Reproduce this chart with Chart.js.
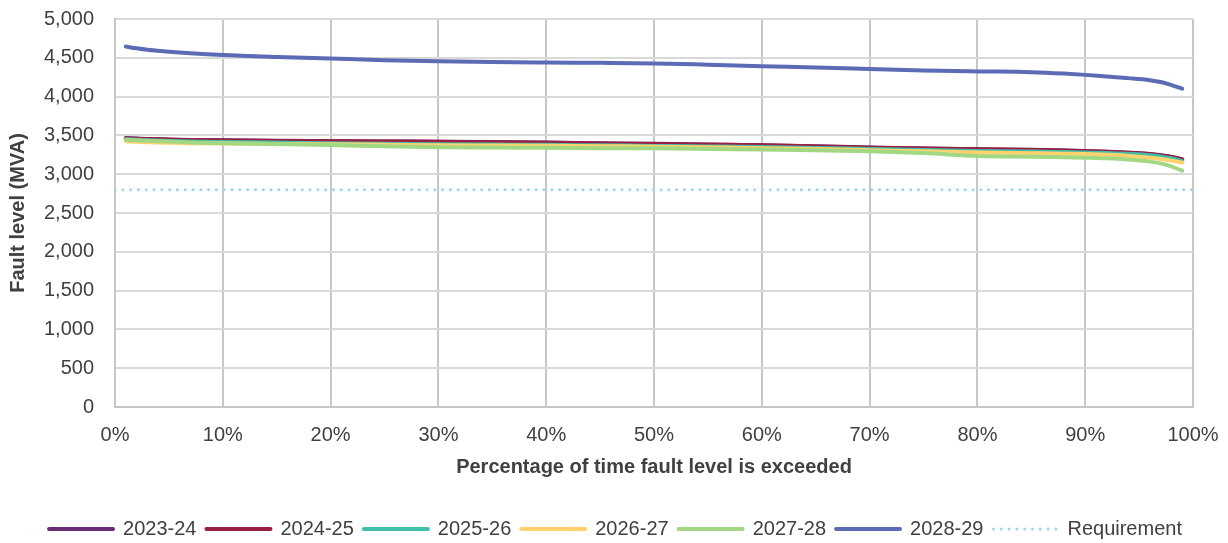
<!DOCTYPE html>
<html><head><meta charset="utf-8">
<script src="https://cdn.jsdelivr.net/npm/chart.js@4/dist/chart.umd.min.js"></script>
<style>html,body{margin:0;padding:0;background:#fff}#wrap{width:1228px;height:543px}</style>
</head><body><div id="wrap"><canvas id="c" width="1228" height="543"></canvas></div>
<script>
const xPct = [1,2,3,5,7,10,15,20,25,30,35,40,45,50,55,60,65,70,75,80,85,88,90,92,94,96,97,98,99];
const s2023 = [3465,3460,3455,3448,3442,3436,3430,3426,3422,3419,3414,3407,3399,3391,3382,3373,3360,3344,3332,3322,3314,3306,3299,3290,3278,3260,3244,3222,3186];
const s2024 = [3460,3456,3452,3445,3439,3433,3429,3425,3421,3418,3412,3405,3397,3390,3381,3372,3358,3342,3330,3320,3312,3304,3297,3288,3275,3258,3242,3222,3192];
const s2025 = [3450,3443,3436,3428,3421,3415,3407,3400,3392,3386,3382,3379,3372,3365,3358,3350,3338,3325,3312,3300,3292,3285,3280,3272,3262,3245,3228,3205,3168];
const s2026 = [3425,3418,3412,3405,3400,3395,3390,3385,3378,3372,3370,3368,3361,3355,3346,3336,3324,3310,3295,3280,3270,3264,3259,3250,3236,3212,3195,3175,3150];
const s2027 = [3445,3437,3430,3420,3410,3400,3388,3375,3360,3347,3343,3340,3336,3333,3326,3318,3308,3295,3272,3236,3225,3218,3212,3204,3188,3162,3140,3100,3045];
const s2028 = [4645,4622,4603,4578,4558,4535,4510,4490,4470,4455,4446,4440,4435,4428,4411,4392,4375,4355,4337,4325,4315,4297,4280,4258,4238,4212,4188,4148,4102];
const requirement = 2800;
const seriesNames = ['2023-24','2024-25','2025-26','2026-27','2027-28','2028-29','Requirement'];
const seriesColors = ['#6A2C74','#9B1E42','#42BFA8','#FFD26E','#A2D884','#5B6BB5','#9ED8E6'];
const xTicks = [0,10,20,30,40,50,60,70,80,90,100];
const yTicks = [0,500,1000,1500,2000,2500,3000,3500,4000,4500,5000];

const FONT = "'Liberation Sans', Arial, sans-serif";
const TXT = '#404040';
const seriesData = [s2023,s2024,s2025,s2026,s2027,s2028];
const datasets = seriesData.map((arr,i)=>({
  label: seriesNames[i],
  data: arr.map((v,j)=>({x:xPct[j], y:v})),
  borderColor: seriesColors[i],
  backgroundColor: seriesColors[i],
  borderWidth: 4,
  pointRadius: 0,
  tension: 0.4,
  cubicInterpolationMode: 'monotone',
  borderCapStyle: 'round',
  fill: false,
  order: 10 - i
}));
datasets.push({
  label: seriesNames[6],
  data: [{x:0,y:requirement},{x:100,y:requirement}],
  borderColor: seriesColors[6],
  backgroundColor: seriesColors[6],
  borderWidth: 3,
  borderDash: [0.1, 7.7],
  borderCapStyle: 'round',
  pointRadius: 0,
  fill: false,
  order: 20
});

const shiftLegend = {
  id: 'shiftLegend',
  afterUpdate(chart) {
    const lg = chart.legend;
    if (lg) { lg.left += 18; lg.right += 18; if (lg.adjustHitBoxes) lg.adjustHitBoxes(); }
  }
};

Chart.defaults.font.family = FONT;
Chart.defaults.color = TXT;
new Chart(document.getElementById('c'), {
  type: 'line',
  data: { datasets },
  plugins: [shiftLegend],
  options: {
    responsive: false,
    animation: false,
    layout: { padding: { left: 2, right: 35, top: 19, bottom: -6 } },
    plugins: {
      legend: {
        position: 'bottom',
        labels: {
          usePointStyle: true,
          pointStyle: 'line',
          pointStyleWidth: 64,
          boxHeight: 4,
          padding: 10,
          font: { size: 20, family: FONT },
          color: TXT,
          sort: (a,b)=>a.datasetIndex-b.datasetIndex,
          generateLabels: (chart)=>{
            const items = Chart.defaults.plugins.legend.labels.generateLabels(chart);
            items.forEach(it=>{
              const ds = chart.data.datasets[it.datasetIndex];
              it.lineWidth = ds.borderWidth;
              it.strokeStyle = ds.borderColor;
              it.lineDash = ds.borderDash || [];
              it.lineCap = 'round';
            });
            return items;
          }
        }
      },
      tooltip: { enabled: false }
    },
    scales: {
      x: {
        type: 'linear', min: 0, max: 100,
        afterBuildTicks: (ax)=>{ ax.ticks = xTicks.map(v=>({value:v})); },
        afterFit: (ax)=>{ ax.height = 102; ax.paddingLeft = 0; ax.paddingRight = 0; },
        ticks: { callback: v=>v+'%', font:{size:20,family:FONT}, color: TXT, padding: 16, maxRotation:0 },
        grid: { color: '#c6c6c6', lineWidth: 2, drawTicks: false },
        border: { color: '#c6c6c6', width: 2 },
        title: { display: true, text: 'Percentage of time fault level is exceeded', font:{size:20,weight:'bold',family:FONT}, color: TXT, padding:{top:0,bottom:30} }
      },
      y: {
        min: 0, max: 5000,
        afterBuildTicks: (ax)=>{ ax.ticks = yTicks.map(v=>({value:v})); },
        afterFit: (ax)=>{ ax.width = 113; ax.paddingTop = 0; ax.paddingBottom = 0; },
        ticks: { callback: v=>v.toLocaleString('en-US'), font:{size:20,family:FONT}, color: TXT, padding: 21 },
        grid: { color: '#d9d9d9', lineWidth: 2, drawTicks: false },
        border: { color: '#c6c6c6', width: 2 },
        title: { display: true, text: 'Fault level (MVA)', font:{size:20,weight:'bold',family:FONT}, color: TXT, padding:{top:4,bottom:0} }
      }
    }
  }
});
</script></body></html>
